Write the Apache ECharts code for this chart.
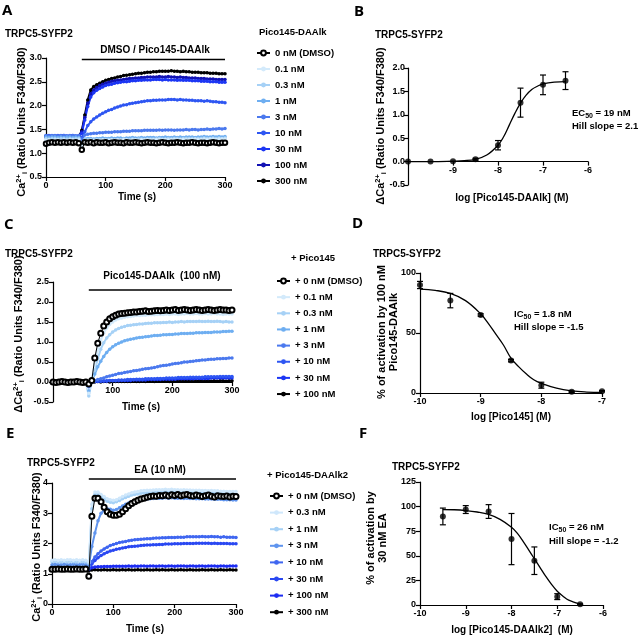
<!DOCTYPE html>
<html><head><meta charset="utf-8">
<script src="https://cdn.jsdelivr.net/npm/echarts@6/dist/echarts.min.js"></script>
<style>html,body{margin:0;padding:0;background:#fff}#c{width:642px;height:637px}</style>
</head><body><div id="c"></div>
<script>
// ---------- time base (s) ----------
const time = [0,5,10,15,20,25,30,35,40,45,50,55,60,65,70,75,80,85,90,95,100,105,110,115,120,125,130,135,140,145,150,155,160,165,170,175,180,185,190,195,200,205,210,215,220,225,230,235,240,245,250,255,260,265,270,275,280,285,290,295,300];

// ---------- Panel A: Ca2+ ratio, Pico145-DAAlk ----------
const legendA = ['0 nM (DMSO)','0.1 nM','0.3 nM','1 nM','3 nM','10 nM','30 nM','100 nM','300 nM'];
const a_dmso = [1.20,1.22,1.23,1.22,1.23,1.22,1.23,1.22,1.23,1.22,1.23,1.21,
1.07,1.23,1.22,1.23,1.21,1.23,1.22,1.22,1.23,1.21,1.22,1.23,
1.22,1.22,1.21,1.23,1.22,1.22,1.23,1.22,1.21,1.22,1.23,1.22,
1.22,1.21,1.22,1.23,1.22,1.21,1.22,1.22,1.23,1.22,1.21,1.22,
1.22,1.23,1.22,1.21,1.22,1.22,1.21,1.22,1.23,1.22,1.21,1.22,1.22];
const a_01 = [1.27,1.28,1.27,1.28,1.28,1.27,1.28,1.27,1.28,1.28,1.27,1.28,
1.15,1.26,1.27,1.27,1.26,1.27,1.27,1.28,1.27,1.27,1.28,1.27,
1.28,1.27,1.28,1.28,1.27,1.28,1.28,1.27,1.28,1.28,1.29,1.28,
1.28,1.29,1.28,1.28,1.29,1.28,1.29,1.29,1.28,1.29,1.29,1.28,
1.29,1.29,1.30,1.29,1.29,1.30,1.29,1.30,1.30,1.29,1.30,1.30,1.30];
const a_03 = [1.31,1.30,1.31,1.31,1.30,1.31,1.31,1.30,1.31,1.30,1.31,1.31,
1.18,1.28,1.28,1.29,1.28,1.29,1.29,1.28,1.29,1.29,1.29,1.28,
1.29,1.29,1.30,1.29,1.29,1.30,1.29,1.30,1.30,1.29,1.30,1.30,
1.30,1.30,1.31,1.30,1.30,1.31,1.30,1.31,1.31,1.30,1.31,1.31,
1.31,1.31,1.30,1.31,1.31,1.32,1.31,1.31,1.32,1.31,1.32,1.31,1.32];
const a_1 = [1.34,1.33,1.34,1.34,1.33,1.34,1.33,1.34,1.34,1.33,1.34,1.33,
1.22,1.30,1.31,1.31,1.30,1.31,1.31,1.32,1.31,1.31,1.32,1.31,
1.32,1.32,1.31,1.32,1.32,1.33,1.32,1.32,1.33,1.32,1.33,1.33,
1.33,1.32,1.33,1.33,1.34,1.33,1.33,1.34,1.33,1.34,1.33,1.34,
1.34,1.34,1.33,1.34,1.34,1.35,1.34,1.34,1.35,1.34,1.35,1.34,1.35];
const a_3 = [1.37,1.36,1.37,1.37,1.36,1.37,1.37,1.36,1.37,1.37,1.36,1.37,
1.30,1.38,1.40,1.41,1.42,1.42,1.43,1.43,1.44,1.44,1.44,1.45,
1.45,1.45,1.46,1.46,1.46,1.47,1.47,1.47,1.47,1.48,1.48,1.48,
1.48,1.48,1.49,1.48,1.49,1.49,1.49,1.48,1.49,1.49,1.49,1.50,
1.49,1.50,1.50,1.49,1.50,1.50,1.51,1.50,1.51,1.51,1.52,1.51,1.52];
const a_10 = [1.36,1.37,1.36,1.36,1.37,1.36,1.37,1.36,1.36,1.37,1.36,1.36,
1.33,1.45,1.58,1.66,1.72,1.76,1.80,1.84,1.87,1.90,1.92,1.95,
1.97,1.99,2.01,2.02,2.04,2.05,2.06,2.07,2.08,2.09,2.10,2.10,
2.11,2.11,2.12,2.12,2.12,2.13,2.13,2.13,2.12,2.13,2.12,2.12,
2.11,2.11,2.10,2.10,2.10,2.09,2.10,2.09,2.08,2.08,2.07,2.07,2.06];
const a_30 = [1.35,1.36,1.35,1.35,1.36,1.35,1.36,1.35,1.35,1.36,1.35,1.35,
1.42,1.70,1.98,2.18,2.27,2.32,2.36,2.39,2.42,2.44,2.45,2.47,
2.48,2.49,2.50,2.50,2.51,2.52,2.52,2.53,2.53,2.54,2.54,2.54,
2.55,2.55,2.55,2.54,2.55,2.54,2.54,2.54,2.53,2.54,2.53,2.53,
2.53,2.52,2.52,2.52,2.51,2.51,2.51,2.50,2.50,2.50,2.49,2.49,2.49];
const a_100 = [1.36,1.35,1.36,1.36,1.35,1.36,1.36,1.35,1.36,1.36,1.35,1.36,
1.45,1.75,2.05,2.25,2.33,2.38,2.42,2.45,2.47,2.49,2.51,2.52,
2.53,2.54,2.55,2.56,2.57,2.57,2.58,2.58,2.59,2.59,2.60,2.60,
2.60,2.60,2.61,2.60,2.60,2.61,2.60,2.60,2.59,2.60,2.59,2.59,
2.58,2.58,2.58,2.57,2.57,2.57,2.56,2.56,2.56,2.55,2.55,2.55,2.55];
const a_300 = [1.34,1.35,1.34,1.34,1.35,1.34,1.35,1.34,1.34,1.35,1.34,1.34,
1.48,1.80,2.12,2.33,2.40,2.44,2.47,2.50,2.53,2.55,2.57,2.58,
2.60,2.61,2.63,2.64,2.65,2.66,2.67,2.68,2.68,2.69,2.70,2.70,
2.71,2.71,2.72,2.72,2.72,2.72,2.73,2.72,2.72,2.71,2.72,2.71,
2.71,2.70,2.70,2.70,2.69,2.69,2.69,2.68,2.68,2.68,2.67,2.67,2.67];
const treatA = [60, 300], treatLevelA = 2.97;

// ---------- Panel B: concentration-response ----------
const b_logx = [-10,-9.5,-9,-8.5,-8,-7.5,-7,-6.5];
const b_mean = [0.00,0.00,0.01,0.05,0.35,1.26,1.64,1.73];
const b_sem  = [0,0,0,0.02,0.10,0.31,0.21,0.19];
const b_fitx = [-10,-9.5,-9,-8.75,-8.5,-8.25,-8,-7.875,-7.75,-7.625,-7.5,-7.375,-7.25,-7.125,-7,-6.75,-6.5];
const b_fity = [0.00,0.00,0.01,0.02,0.05,0.14,0.35,0.53,0.78,1.03,1.25,1.42,1.54,1.61,1.66,1.70,1.71];

// ---------- Panel C: ΔCa2+, Pico145 inhibition ----------
const legendC = ['+ 0 nM (DMSO)','+ 0.1 nM','+ 0.3 nM','+ 1 nM','+ 3 nM','+ 10 nM','+ 30 nM','+ 100 nM'];
const c_dmso = [0.00,-0.01,0.00,0.01,0.00,-0.01,0.00,0.00,0.01,0.00,-0.01,0.00,
-0.05,0.04,0.60,0.97,1.22,1.40,1.50,1.58,1.63,1.67,1.70,1.71,
1.72,1.73,1.74,1.75,1.75,1.76,1.77,1.78,1.76,1.77,1.78,1.79,
1.78,1.79,1.80,1.79,1.80,1.81,1.79,1.80,1.81,1.80,1.79,1.80,
1.81,1.80,1.79,1.80,1.81,1.80,1.79,1.80,1.81,1.80,1.80,1.79,1.80];
const c_01 = [0.00,0.01,0.00,0.00,-0.01,0.00,0.01,0.00,0.00,0.01,0.00,0.00,
-0.28,0.08,0.45,0.80,1.05,1.22,1.35,1.44,1.50,1.55,1.58,1.60,
1.62,1.63,1.64,1.65,1.66,1.66,1.67,1.67,1.68,1.68,1.68,1.69,
1.69,1.69,1.70,1.69,1.70,1.70,1.69,1.70,1.70,1.71,1.70,1.70,
1.71,1.70,1.70,1.71,1.70,1.70,1.71,1.70,1.70,1.69,1.70,1.70,1.70];
const c_03 = [0.00,0.00,0.01,0.00,0.00,-0.01,0.00,0.00,0.01,0.00,0.00,0.00,
-0.35,0.03,0.30,0.58,0.82,0.98,1.10,1.18,1.25,1.30,1.34,1.37,
1.39,1.41,1.42,1.43,1.44,1.45,1.45,1.46,1.47,1.47,1.48,1.48,
1.48,1.49,1.49,1.50,1.49,1.50,1.50,1.51,1.50,1.51,1.51,1.51,
1.51,1.52,1.51,1.51,1.52,1.51,1.51,1.52,1.51,1.50,1.51,1.50,1.50];
const c_1 = [0.00,0.00,0.00,0.01,0.00,0.00,-0.01,0.00,0.00,0.00,0.01,0.00,
-0.22,0.02,0.20,0.38,0.52,0.64,0.74,0.82,0.88,0.93,0.97,1.00,
1.03,1.05,1.07,1.08,1.10,1.11,1.12,1.13,1.14,1.15,1.16,1.16,
1.17,1.18,1.18,1.19,1.19,1.20,1.20,1.21,1.21,1.21,1.22,1.22,
1.23,1.23,1.23,1.24,1.24,1.24,1.25,1.25,1.25,1.26,1.26,1.27,1.27];
const c_3 = [0.00,0.01,0.00,0.00,0.00,-0.01,0.00,0.01,0.00,0.00,0.00,0.01,
-0.12,0.00,0.03,0.06,0.08,0.10,0.13,0.15,0.17,0.19,0.21,0.22,
0.24,0.25,0.26,0.28,0.29,0.30,0.32,0.33,0.34,0.35,0.36,0.38,
0.40,0.41,0.42,0.43,0.45,0.46,0.47,0.48,0.50,0.50,0.51,0.52,
0.53,0.54,0.55,0.55,0.56,0.57,0.57,0.58,0.58,0.59,0.59,0.60,0.60];
const c_10 = [0.00,0.00,0.01,0.00,0.00,0.00,0.01,0.00,0.00,-0.01,0.00,0.00,
-0.08,0.00,0.01,0.02,0.02,0.03,0.03,0.04,0.04,0.04,0.05,0.05,
0.05,0.06,0.06,0.06,0.07,0.07,0.07,0.08,0.08,0.08,0.08,0.09,
0.09,0.09,0.10,0.10,0.10,0.10,0.11,0.11,0.11,0.11,0.12,0.12,
0.12,0.12,0.12,0.13,0.13,0.13,0.13,0.13,0.14,0.14,0.14,0.14,0.14];
const c_30 = [0.00,0.00,0.00,0.01,0.00,0.00,0.00,0.00,0.01,0.00,0.00,0.00,
-0.06,0.00,0.01,0.01,0.02,0.02,0.02,0.03,0.03,0.03,0.03,0.04,
0.04,0.04,0.04,0.05,0.05,0.05,0.05,0.05,0.06,0.06,0.06,0.06,
0.06,0.07,0.07,0.07,0.07,0.07,0.08,0.08,0.08,0.08,0.08,0.08,
0.09,0.09,0.09,0.09,0.09,0.10,0.10,0.10,0.10,0.10,0.10,0.10,0.10];
const c_100 = [0.00,0.00,0.00,0.00,0.01,0.00,0.00,0.00,0.00,0.00,0.01,0.00,
-0.04,0.00,0.00,0.01,0.00,0.01,0.01,0.00,0.01,0.01,0.01,0.01,
0.01,0.01,0.01,0.02,0.01,0.01,0.02,0.01,0.02,0.02,0.01,0.02,
0.02,0.02,0.02,0.01,0.02,0.02,0.02,0.02,0.02,0.03,0.02,0.02,
0.02,0.03,0.02,0.02,0.03,0.02,0.03,0.02,0.03,0.03,0.02,0.03,0.03];
const treatC = [60, 300], treatLevelC = 2.3;

// ---------- Panel D ----------
const d_logx = [-10,-9.5,-9,-8.5,-8,-7.5,-7];
const d_mean = [90,77,65,27,6.5,1,1.5];
const d_sem  = [3,6,1,1,2.5,0.5,0.5];
const d_fitx = [-10,-9.75,-9.5,-9.25,-9,-8.875,-8.75,-8.625,-8.5,-8.375,-8.25,-8.125,-8,-7.75,-7.5,-7.25,-7];
const d_fity = [86.5,85.5,83,77,66,58,49,40,29,22,16,11,8,4,1.8,0.8,0.4];

// ---------- Panel E: Ca2+ ratio, EA + Pico145-DAAlk2 ----------
const legendE = ['+ 0 nM (DMSO) ','+ 0.3 nM ','+ 1 nM ','+ 3 nM ','+ 10 nM ','+ 30 nM ','+ 100 nM ','+ 300 nM '];
const e_dmso = [1.15,1.15,1.16,1.15,1.15,1.16,1.15,1.15,1.16,1.15,1.15,1.16,
0.92,2.90,3.50,3.50,3.38,3.20,3.05,2.97,2.93,2.93,2.97,3.05,
3.15,3.25,3.32,3.38,3.43,3.47,3.50,3.53,3.55,3.57,3.56,3.59,
3.58,3.60,3.57,3.61,3.59,3.62,3.58,3.60,3.62,3.59,3.57,3.60,
3.58,3.55,3.58,3.60,3.56,3.54,3.58,3.56,3.55,3.57,3.54,3.56,3.55];
const e_03 = [1.45,1.46,1.45,1.46,1.45,1.46,1.46,1.45,1.46,1.45,1.46,1.45,
1.40,3.30,3.70,3.70,3.62,3.55,3.48,3.45,3.43,3.45,3.50,3.55,
3.60,3.64,3.68,3.70,3.72,3.74,3.75,3.76,3.76,3.77,3.78,3.78,
3.78,3.79,3.78,3.79,3.78,3.78,3.77,3.78,3.77,3.77,3.76,3.76,
3.76,3.75,3.75,3.74,3.75,3.74,3.74,3.73,3.73,3.72,3.72,3.72,3.72];
const e_1 = [1.40,1.41,1.40,1.40,1.41,1.40,1.41,1.40,1.40,1.41,1.40,1.40,
1.35,3.15,3.62,3.62,3.55,3.47,3.40,3.36,3.35,3.38,3.42,3.48,
3.52,3.56,3.60,3.62,3.64,3.66,3.67,3.68,3.68,3.69,3.70,3.70,
3.70,3.71,3.70,3.71,3.70,3.70,3.70,3.69,3.70,3.69,3.69,3.68,
3.68,3.68,3.67,3.67,3.67,3.66,3.66,3.66,3.65,3.65,3.65,3.64,3.64];
const e_3 = [1.30,1.31,1.30,1.30,1.31,1.30,1.30,1.31,1.30,1.30,1.31,1.30,
1.25,1.90,2.35,2.75,3.00,3.10,3.15,3.13,3.10,3.12,3.18,3.24,
3.30,3.34,3.38,3.41,3.43,3.45,3.46,3.47,3.48,3.49,3.50,3.50,
3.50,3.51,3.50,3.51,3.50,3.50,3.50,3.49,3.50,3.49,3.49,3.48,
3.48,3.48,3.47,3.47,3.47,3.46,3.46,3.46,3.45,3.45,3.45,3.44,3.44];
const e_10 = [1.22,1.21,1.22,1.22,1.21,1.22,1.22,1.21,1.22,1.22,1.21,1.22,
1.18,1.40,1.55,1.66,1.75,1.82,1.88,1.93,1.97,2.00,2.03,2.05,
2.07,2.09,2.11,2.12,2.13,2.14,2.15,2.16,2.16,2.17,2.18,2.18,
2.19,2.19,2.20,2.20,2.20,2.21,2.21,2.21,2.22,2.22,2.22,2.22,
2.22,2.23,2.22,2.22,2.23,2.22,2.22,2.21,2.22,2.21,2.21,2.21,2.20];
const e_30 = [1.20,1.19,1.20,1.20,1.19,1.20,1.20,1.19,1.20,1.20,1.19,1.20,
1.16,1.32,1.44,1.53,1.60,1.66,1.71,1.75,1.78,1.81,1.83,1.85,
1.87,1.89,1.90,1.91,1.92,1.93,1.94,1.95,1.95,1.96,1.96,1.97,
1.97,1.98,1.98,1.98,1.99,1.99,1.99,2.00,2.00,2.00,2.00,2.01,
2.01,2.01,2.01,2.01,2.00,2.01,2.00,2.00,2.00,2.00,1.99,1.99,1.99];
const e_100 = [1.17,1.18,1.17,1.17,1.18,1.17,1.18,1.17,1.17,1.18,1.17,1.17,
1.14,1.20,1.22,1.23,1.23,1.24,1.24,1.24,1.25,1.25,1.25,1.25,
1.25,1.26,1.25,1.26,1.25,1.26,1.26,1.25,1.26,1.26,1.25,1.26,
1.26,1.25,1.26,1.26,1.25,1.26,1.26,1.26,1.25,1.26,1.26,1.25,
1.26,1.26,1.25,1.26,1.26,1.26,1.25,1.26,1.26,1.25,1.26,1.26,1.26];
const e_300 = [1.12,1.12,1.13,1.12,1.12,1.12,1.13,1.12,1.12,1.12,1.13,1.12,
1.10,1.12,1.13,1.12,1.12,1.13,1.12,1.12,1.13,1.12,1.12,1.13,
1.12,1.13,1.12,1.12,1.13,1.12,1.12,1.13,1.12,1.12,1.13,1.12,
1.13,1.12,1.12,1.13,1.12,1.12,1.13,1.12,1.12,1.13,1.12,1.12,
1.12,1.13,1.12,1.12,1.13,1.12,1.12,1.13,1.12,1.12,1.13,1.12,1.12];
const treatE = [60, 300], treatLevelE = 4.13;

// ---------- Panel F ----------
const f_logx = [-9.5,-9,-8.5,-8,-7.5,-7,-6.5];
const f_mean = [90,97,95,67,45,8.5,0.7];
const f_sem  = [8.5,4,7,26,14,3,0.5];
const f_fitx = [-9.5,-9.25,-9,-8.75,-8.5,-8.25,-8,-7.875,-7.75,-7.625,-7.5,-7.375,-7.25,-7.125,-7,-6.875,-6.75,-6.5];
const f_fity = [97,96.8,96,94.5,92,87,79,73,65,56,47,38,29,21,14,9,5,1];

// ---------- styling ----------
const FF = '"Liberation Sans", Arial, sans-serif';
const paletteA = ['#000','#d3eafb','#a6d1f6','#6eaef1','#4b79ee','#2e56f2','#1c36f4','#1212b4','#000'];
const paletteC = ['#000','#d3eafb','#a6d1f6','#6eaef1','#4b79ee','#2e56f2','#1c36f4','#000'];
const paletteE = ['#000','#cfe7fb','#a6d1f6','#5f94ee','#3f66f0','#2a48f2','#1c2cf2','#000'];

const zip = arr => arr.map((v, i) => [time[i], v]);
const zip2 = (xs, ys) => xs.map((x, i) => [x, ys[i]]);
const zip3 = (xs, ys, es) => xs.map((x, i) => [x, ys[i], es[i]]);

const series = [];
function tcSeries(names, arrays, palette, gi, dmsoSize) {
  for (let k = arrays.length - 1; k >= 1; k--) {
    series.push({ type: 'line', name: names[k], xAxisIndex: gi, yAxisIndex: gi, data: zip(arrays[k]),
      symbol: 'circle', symbolSize: 3.5, showSymbol: true, clip: false,
      lineStyle: { color: palette[k], width: 2 }, itemStyle: { color: palette[k] }, z: 2 });
  }
  series.push({ type: 'line', name: names[0], xAxisIndex: gi, yAxisIndex: gi, data: zip(arrays[0]),
    symbol: 'emptyCircle', symbolSize: dmsoSize, clip: false,
    lineStyle: { color: '#000', width: 1 }, itemStyle: { color: '#000', borderColor: '#000', borderWidth: 1.1 }, z: 3 });
}
function treatBar(gi, range, level) {
  series.push({ type: 'line', xAxisIndex: gi, yAxisIndex: gi, data: range.map(t => [t, level]), symbol: 'none',
    clip: false, silent: true, lineStyle: { color: '#000', width: 1.5 }, z: 4 });
}
function errBars(gi, data) {
  series.push({ type: 'custom', xAxisIndex: gi, yAxisIndex: gi, data: data, clip: false, z: 3,
    encode: { x: 0, y: 1 },
    renderItem: function (params, api) {
      const x = api.value(0), y = api.value(1), e = api.value(2);
      if (!e) return { type: 'group', children: [] };
      const lo = api.coord([x, y - e]), hi = api.coord([x, y + e]);
      const w = 3, st = { stroke: '#000', lineWidth: 1.2 };
      return { type: 'group', children: [
        { type: 'line', shape: { x1: lo[0], y1: lo[1], x2: hi[0], y2: hi[1] }, style: st },
        { type: 'line', shape: { x1: lo[0] - w, y1: lo[1], x2: lo[0] + w, y2: lo[1] }, style: st },
        { type: 'line', shape: { x1: hi[0] - w, y1: hi[1], x2: hi[0] + w, y2: hi[1] }, style: st }
      ]};
    }
  });
}
function doseSeries(gi, xs, ys, es, fx, fy) {
  series.push({ type: 'line', xAxisIndex: gi, yAxisIndex: gi, data: zip2(fx, fy), smooth: 0.4, symbol: 'none',
    clip: false, lineStyle: { color: '#000', width: 1.3 }, z: 2 });
  errBars(gi, zip3(xs, ys, es));
  series.push({ type: 'scatter', xAxisIndex: gi, yAxisIndex: gi, data: zip2(xs, ys), symbol: 'circle', symbolSize: 6,
    clip: false, itemStyle: { color: '#000' }, z: 4 });
}

tcSeries(legendA, [a_dmso,a_01,a_03,a_1,a_3,a_10,a_30,a_100,a_300], paletteA, 0, 4.5);
treatBar(0, treatA, treatLevelA);
doseSeries(1, b_logx, b_mean, b_sem, b_fitx, b_fity);
tcSeries(legendC, [c_dmso,c_01,c_03,c_1,c_3,c_10,c_30,c_100], paletteC, 2, 5);
treatBar(2, treatC, treatLevelC);
doseSeries(3, d_logx, d_mean, d_sem, d_fitx, d_fity);
tcSeries(legendE, [e_dmso,e_03,e_1,e_3,e_10,e_30,e_100,e_300], paletteE, 4, 5);
treatBar(4, treatE, treatLevelE);
doseSeries(5, f_logx, f_mean, f_sem, f_fitx, f_fity);

const grids = [
  { left: 46, top: 58, width: 179, height: 119 },   // A
  { left: 408, top: 68, width: 180, height: 117 },  // B
  { left: 53, top: 282, width: 179, height: 120 },  // C
  { left: 420, top: 273, width: 182, height: 120 }, // D
  { left: 52, top: 483, width: 184, height: 121 },  // E
  { left: 420, top: 482, width: 183, height: 123 }, // F
  { left: 408, top: 160.6, width: 180, height: 1 }  // B: strip carrying the x axis that crosses at y = 0
];
const mkLine = () => ({ show: true, onZero: false, lineStyle: { color: '#000', width: 1.2 } });
const mkTick = () => ({ show: true, length: 4, lineStyle: { color: '#000', width: 1.2 } });
const lab = (fmt, m) => ({ color: '#000', fontFamily: FF, fontWeight: 'bold', fontSize: 9, margin: m, formatter: fmt,
  showMinLabel: true, showMaxLabel: true });
function ax(gi, min, max, interval, fmt, m, offset) {
  return { type: 'value', gridIndex: gi, min, max, interval, offset: offset || 0, axisLine: mkLine(), axisTick: mkTick(),
    axisLabel: lab(fmt, m), splitLine: { show: false } };
}
function hiddenAx(gi, min, max) {
  return { type: 'value', gridIndex: gi, min, max, show: false, splitLine: { show: false } };
}
const f1 = v => v.toFixed(1), f0 = v => String(v);
const xAxes = [
  ax(0, 0, 300, 100, f0, 4),
  hiddenAx(1, -10, -6),
  ax(2, 0, 300, 100, v => v === 0 ? '' : String(v), 4, -20),
  ax(3, -10, -7, 1, f0, 4),
  ax(4, 0, 300, 100, f0, 4),
  ax(5, -10, -6, 1, f0, 4),
  ax(6, -10, -6, 1, v => v === -10 ? '' : String(v), 4)
];
const yAxes = [
  ax(0, 0.5, 3.0, 0.5, f1, 4),
  ax(1, -0.5, 2.0, 0.5, f1, 3),
  ax(2, -0.5, 2.5, 0.5, f1, 4),
  ax(3, 0, 100, 50, f0, 4),
  ax(4, 0, 4, 1, f0, 4),
  ax(5, 0, 125, 25, f0, 4),
  hiddenAx(6, 0, 1)
];

const legTxt = { fontFamily: FF, fontWeight: 'bold', fontSize: 9.5, color: '#000', lineHeight: 10 };
const legends = [
  { left: 251, top: 43, orient: 'vertical', itemWidth: 13, itemHeight: 6, itemGap: 6, data: legendA, textStyle: legTxt, selectedMode: false },
  { left: 271, top: 271, orient: 'vertical', itemWidth: 13, itemHeight: 6, itemGap: 6.15, data: legendC, textStyle: legTxt, selectedMode: false },
  { left: 264, top: 486, orient: 'vertical', itemWidth: 13, itemHeight: 6, itemGap: 6.6, data: legendE, textStyle: legTxt, selectedMode: false }
];

// ---------- texts ----------
const g = [];
function txt(x, y, text, o) {
  o = o || {};
  g.push({ type: 'text', x, y, rotation: o.rot || 0, silent: true, z: 10,
    style: { text, fill: '#000', font: (o.font || ('bold 10px ' + FF)), align: o.align || 'left', verticalAlign: o.va || 'middle',
      rich: o.rich, lineHeight: o.lh } });
}
const letterFont = 'bold 15px "Open Sans", "Liberation Sans", sans-serif';
txt(2, 11, 'A', { font: letterFont });
txt(354, 12, 'B', { font: letterFont });
txt(4, 225, 'C', { font: letterFont });
txt(352, 224, 'D', { font: letterFont });
txt(6, 434, 'E', { font: letterFont });
txt(359, 434, 'F', { font: letterFont });

txt(5, 34, 'TRPC5-SYFP2'); txt(375, 35, 'TRPC5-SYFP2');
txt(5, 254, 'TRPC5-SYFP2'); txt(373, 254, 'TRPC5-SYFP2');
txt(27, 463, 'TRPC5-SYFP2'); txt(392, 467, 'TRPC5-SYFP2');

txt(155, 50, 'DMSO / Pico145-DAAlk', { align: 'center' });
txt(162, 276, 'Pico145-DAAlk  (100 nM)', { align: 'center' });
txt(160, 470, 'EA (10 nM)', { align: 'center' });

txt(259, 32, 'Pico145-DAAlk', { font: 'bold 9.5px ' + FF });
txt(291, 258, '+ Pico145', { font: 'bold 9.5px ' + FF });
txt(267, 475, '+ Pico145-DAAlk2', { font: 'bold 9.5px ' + FF });

txt(137, 197, 'Time (s)', { align: 'center' });
txt(141, 407, 'Time (s)', { align: 'center' });
txt(145, 629, 'Time (s)', { align: 'center' });
txt(512, 198, 'log [Pico145-DAAlk] (M)', { align: 'center' });
txt(511, 417, 'log [Pico145] (M)', { align: 'center' });
txt(512, 630, 'log [Pico145-DAAlk2]  (M)', { align: 'center' });

const richY = {
  b: { fontFamily: FF, fontWeight: 'bold', fontSize: 11, lineHeight: 14, fill: '#000' },
  sup: { fontFamily: FF, fontWeight: 'bold', fontSize: 7.5, verticalAlign: 'top', fill: '#000' },
  sub: { fontFamily: FF, fontWeight: 'bold', fontSize: 7.5, verticalAlign: 'bottom', fill: '#000' }
};
const yCa = '{b|Ca}{sup|2+}{sub|i}{b| (Ratio Units F340/F380)}';
const yDCa = '{b|\u0394Ca}{sup|2+}{sub|i}{b| (Ratio Units F340/F380)}';
txt(22, 122, yCa, { rot: Math.PI / 2, align: 'center', rich: richY });
txt(381, 126, yDCa, { rot: Math.PI / 2, align: 'center', rich: richY });
txt(19, 334, yDCa, { rot: Math.PI / 2, align: 'center', rich: richY });
txt(37, 547, yCa, { rot: Math.PI / 2, align: 'center', rich: richY });
txt(388, 332, '% of activation by 100 nM\nPico145-DAAlk', { rot: Math.PI / 2, align: 'center', font: 'bold 11px ' + FF, lh: 12 });
txt(377, 538, '% of activation by\n30 nM EA', { rot: Math.PI / 2, align: 'center', font: 'bold 11px ' + FF, lh: 12 });

const richS = {
  b: { fontFamily: FF, fontWeight: 'bold', fontSize: 9.5, lineHeight: 13, fill: '#000' },
  s: { fontFamily: FF, fontWeight: 'bold', fontSize: 7, verticalAlign: 'bottom', fill: '#000' }
};
txt(572, 113, '{b|EC}{s|50}{b| = 19 nM}', { rich: richS });
txt(572, 126, '{b|Hill slope = 2.1}', { rich: richS });
txt(514, 314, '{b|IC}{s|50}{b| = 1.8 nM}', { rich: richS });
txt(514, 327, '{b|Hill slope = -1.5}', { rich: richS });
txt(549, 527, '{b|IC}{s|50}{b| = 26 nM}', { rich: richS });
txt(549, 541, '{b|Hill slope = -1.2}', { rich: richS });

const chart = echarts.init(document.getElementById('c'), null, { renderer: 'canvas' });
chart.setOption({
  animation: false,
  backgroundColor: '#fff',
  grid: grids,
  xAxis: xAxes,
  yAxis: yAxes,
  legend: legends,
  series: series,
  graphic: g
});
</script></body></html>
